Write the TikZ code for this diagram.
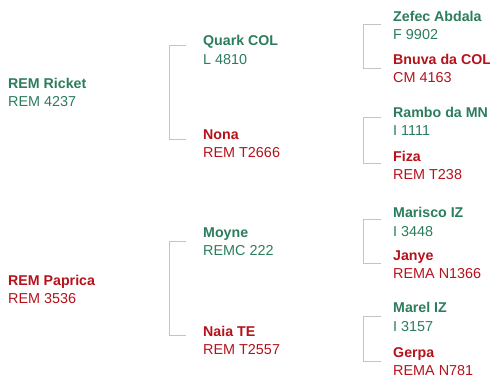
\documentclass[tikz,border=0pt]{standalone}
\usepackage{fontspec}
\setmainfont{Liberation Sans}
\definecolor{pgreen}{HTML}{2B7D5C}
\definecolor{pred}{HTML}{B5121B}
\definecolor{bracketgray}{HTML}{C4C4C4}
\begin{document}
\begin{tikzpicture}[x=1pt,y=1pt,
  lbl/.style={anchor=base west,inner sep=0pt,font=\fontsize{14.4}{17}\selectfont},
  nm/.style={lbl,font=\fontsize{14.2}{17}\selectfont\bfseries},
  gr/.style={text=pgreen},
  rd/.style={text=pred},
  brk/.style={draw=bracketgray,line width=1pt}]
\useasboundingbox (0,0) rectangle (490,381);
% generation 0
\node[nm,gr] (ricketN) at (8,381-89) {REM Ricket};
\node[lbl,gr] (ricketI) at (8,381-107) {REM 4237};
\node[nm,rd] (papricaN) at (8,381-285) {REM Paprica};
\node[lbl,rd] (papricaI) at (8,381-303) {REM 3536};
% generation 1
\node[nm,gr] (quarkN) at (203,381-46) {Quark COL};
\node[lbl,gr] (quarkI) at (203,381-65) {L 4810};
\node[nm,rd] (nonaN) at (203,381-139) {Nona};
\node[lbl,rd] (nonaI) at (203,381-157) {REM T2666};
\node[nm,gr] (moyneN) at (203,381-237) {Moyne};
\node[lbl,gr] (moyneI) at (203,381-255) {REMC 222};
\node[nm,rd] (naiaN) at (203,381-336) {Naia TE};
\node[lbl,rd] (naiaI) at (203,381-354) {REM T2557};
% generation 2
\node[nm,gr] (zefecN) at (393,381-22) {Zefec Abdala};
\node[lbl,gr] (zefecI) at (393,381-40) {F 9902};
\node[nm,rd] (bnuvaN) at (393,381-65) {Bnuva da COL};
\node[lbl,rd] (bnuvaI) at (393,381-83) {CM 4163};
\node[nm,gr] (ramboN) at (393,381-118) {Rambo da MN};
\node[lbl,gr] (ramboI) at (393,381-136) {I 1111};
\node[nm,rd] (fizaN) at (393,381-161) {Fiza};
\node[lbl,rd] (fizaI) at (393,381-179) {REM T238};
\node[nm,gr] (mariscoN) at (393,381-217) {Marisco IZ};
\node[lbl,gr] (mariscoI) at (393,381-236) {I 3448};
\node[nm,rd] (janyeN) at (393,381-260) {Janye};
\node[lbl,rd] (janyeI) at (393,381-278) {REMA N1366};
\node[nm,gr] (marelN) at (393,381-312) {Marel IZ};
\node[lbl,gr] (marelI) at (393,381-331) {I 3157};
\node[nm,rd] (gerpaN) at (393,381-357) {Gerpa};
\node[lbl,rd] (gerpaI) at (393,381-375) {REMA N781};
% brackets
\coordinate (b1a) at (186,381-46);  \coordinate (b1b) at (186,381-139);
\coordinate (b2a) at (186,381-241); \coordinate (b2b) at (186,381-335);
\coordinate (b3a) at (381,381-25);  \coordinate (b3b) at (381,381-69);
\coordinate (b4a) at (381,381-118); \coordinate (b4b) at (381,381-163);
\coordinate (b5a) at (381,381-219); \coordinate (b5b) at (381,381-263);
\coordinate (b6a) at (381,381-316); \coordinate (b6b) at (381,381-361);
\draw[brk] (b1a) -- ++(-17,0) |- (b1b);
\draw[brk] (b2a) -- ++(-17,0) |- (b2b);
\draw[brk] (b3a) -- ++(-18,0) |- (b3b);
\draw[brk] (b4a) -- ++(-18,0) |- (b4b);
\draw[brk] (b5a) -- ++(-18,0) |- (b5b);
\draw[brk] (b6a) -- ++(-18,0) |- (b6b);
\end{tikzpicture}
\end{document}
